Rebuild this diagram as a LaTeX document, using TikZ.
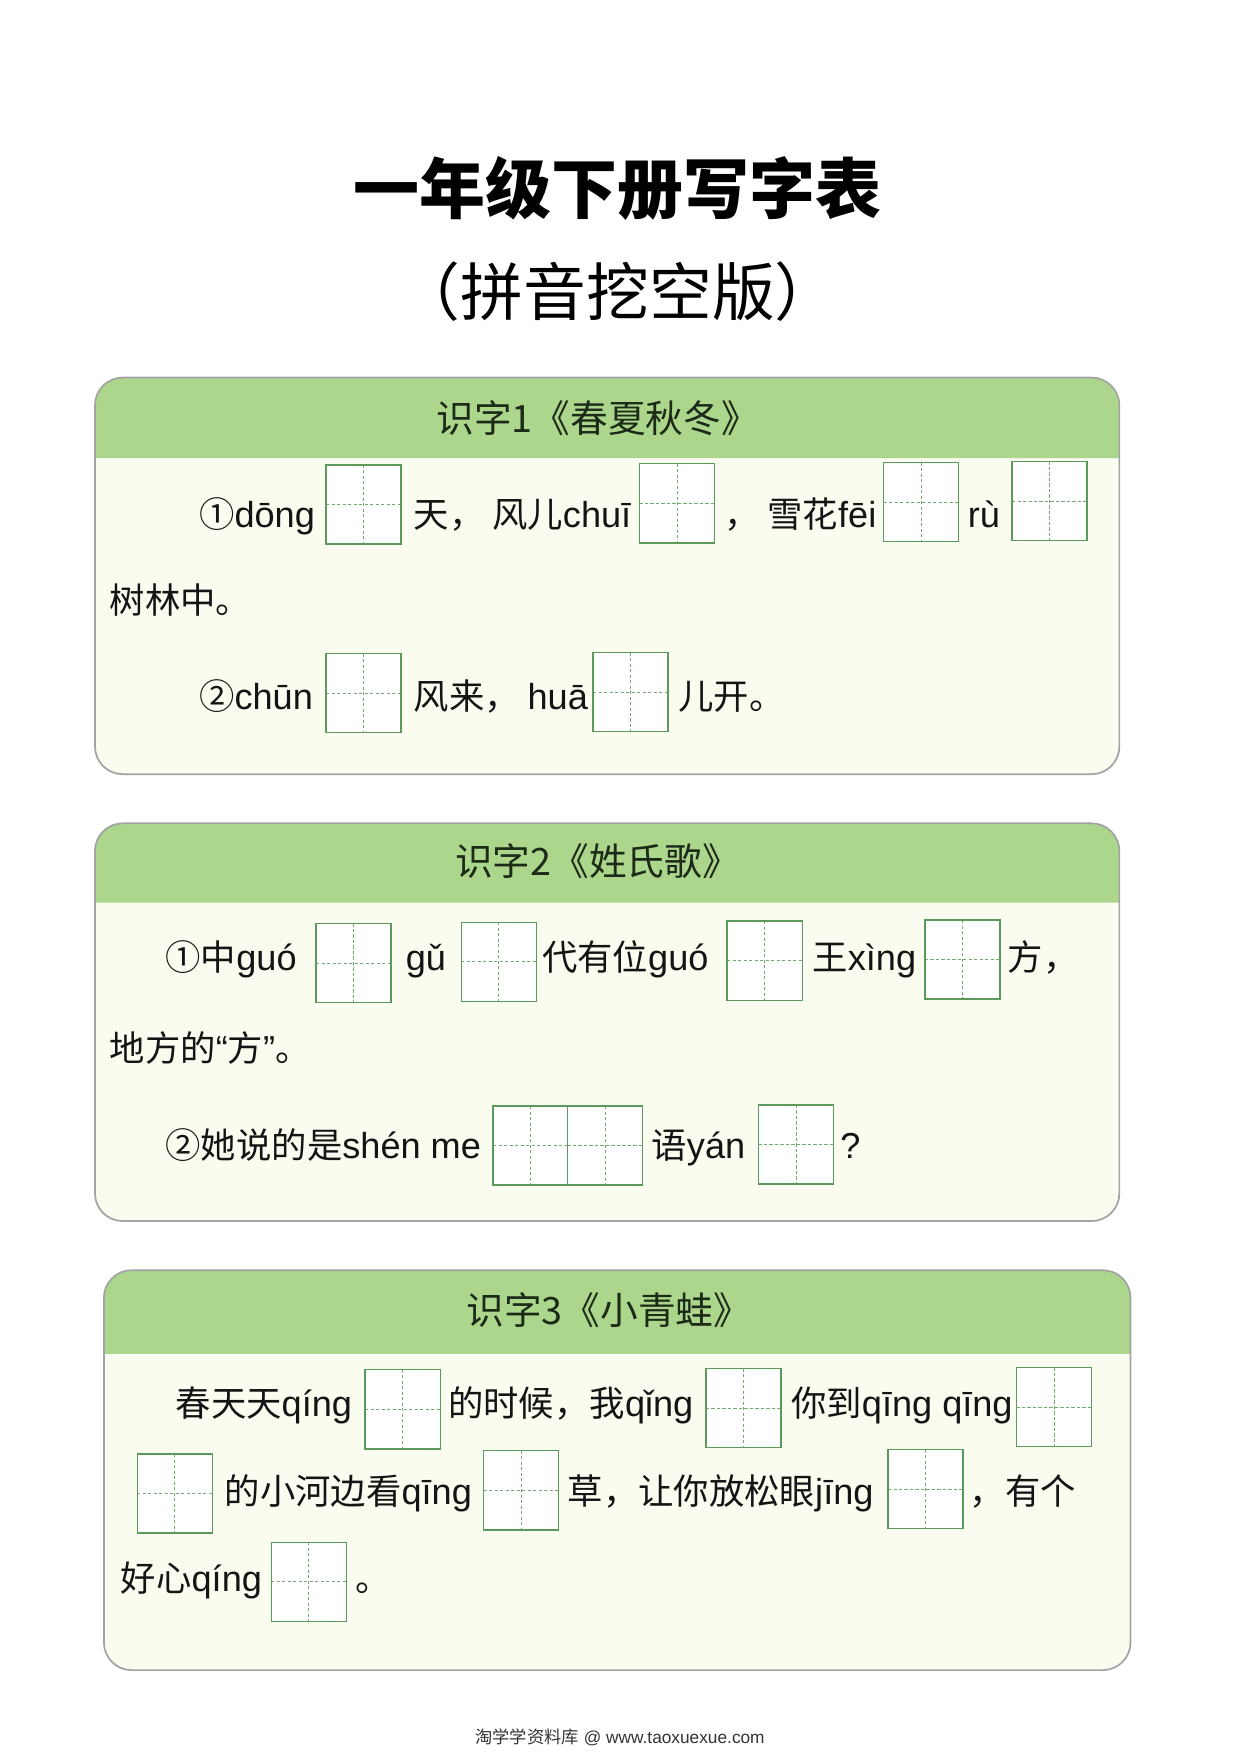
\documentclass[tikz,border=0pt]{standalone}
\usepackage{fontspec}
\setmainfont{Liberation Sans}
\newfontfamily\cjk{Noto Sans CJK SC}
\definecolor{headgreen}{HTML}{ACD68C}
\definecolor{cardcream}{HTML}{FBFCF0}
\definecolor{cardgray}{HTML}{A3A3A3}
\definecolor{tiangreen}{HTML}{5B9A5B}
\definecolor{headink}{HTML}{1C2A18}
\newcommand\py[1]{{\rmfamily\fontsize{23pt}{23pt}\selectfont #1}}
\tikzset{
	cardframe/.style={draw=cardgray, line width=1.1pt, rounded corners=0.62cm},
	headtext/.style={font=\cjk\fontsize{24pt}{24pt}\selectfont, text=headink, anchor=base, inner sep=0},
	linetext/.style={font=\cjk\fontsize{22.5pt}{22.5pt}\selectfont, text=black!92, anchor=base west, inner sep=0},
	tian/.style={draw=tiangreen, line width=0.9pt, fill=white, minimum width=1.68cm, minimum height=1.77cm, inner sep=0,
		path picture={\draw[tiangreen!85, line width=0.5pt, dash pattern=on 2pt off 1.5pt]
			(path picture bounding box.north) -- (path picture bounding box.south)
			(path picture bounding box.west) -- (path picture bounding box.east);}},
}

\begin{document}
\begin{tikzpicture}[x=0.025cm, y=-0.025cm]
		%%%%% START %%%%%
		\useasboundingbox (0, 0) rectangle (1110, 1569.2);
		
		\node[font=\cjk\bfseries\fontsize{42pt}{42pt}\selectfont, anchor=base, inner sep=0] (title) at (553, 191) {一年级下册写字表};
		\node[font=\cjk\fontsize{40pt}{40pt}\selectfont, anchor=base, inner sep=0] (subtitle) at (553, 282) {（拼音挖空版）};
		
		% card 1
		\fill[cardcream, rounded corners=0.62cm] (85, 338) rectangle (1002, 693);
		\fill[headgreen] (85, 410) [rounded corners=0.62cm] -- (85, 338) -- (1002, 338) [sharp corners] -- (1002, 410) -- cycle;
		\draw[cardframe] (85, 338) rectangle (1002, 693);
		\node[headtext] (head1) at (535, 387) {识字1《春夏秋冬》};
		
		\node[linetext] (s1a) at (178, 472) {①\py{dōng}};
		\node[tian] (k1a) at (325.5, 451.5) {};
		\node[linetext] (s1b) at (370, 472) {天， 风儿\py{chuī}};
		\node[tian] (k1b) at (606, 450.5) {};
		\node[linetext] (s1c) at (648, 472) {， 雪花\py{fēi}};
		\node[tian] (k1c) at (824.5, 449.5) {};
		\node[linetext] (s1d) at (866, 472) {\py{rù}};
		\node[tian] (k1d) at (939.5, 448.5) {};
		\node[linetext] (s1e) at (98, 549) {树林中。};
		\node[linetext] (s1f) at (178, 635) {②\py{chūn}};
		\node[tian] (k1e) at (325.5, 620.5) {};
		\node[linetext] (s1g) at (370, 635) {风来， \py{huā}};
		\node[tian] (k1f) at (564.5, 619.5) {};
		\node[linetext] (s1h) at (607, 635) {儿开。};
		
		% card 2
		\fill[cardcream, rounded corners=0.62cm] (85, 737) rectangle (1002, 1093);
		\fill[headgreen] (85, 808) [rounded corners=0.62cm] -- (85, 737) -- (1002, 737) [sharp corners] -- (1002, 808) -- cycle;
		\draw[cardframe] (85, 737) rectangle (1002, 1093);
		\node[headtext] (head2) at (535, 784) {识字2《姓氏歌》};
		
		\node[linetext] (s2a) at (148, 869) {①中\py{guó}};
		\node[tian] (k2a) at (316.5, 862) {};
		\node[linetext] (s2b) at (363, 869) {\py{gǔ}};
		\node[tian] (k2b) at (446.5, 861) {};
		\node[linetext] (s2c) at (485, 869) {代有位\py{guó}};
		\node[tian] (k2c) at (684.5, 860) {};
		\node[linetext] (s2d) at (727, 869) {王\py{xìng}};
		\node[tian] (k2d) at (861.5, 859) {};
		\node[linetext] (s2e) at (902, 869) {方，};
		\node[linetext] (s2f) at (98, 950) {地方的\py{“}方\py{”}。};
		\node[linetext] (s2g) at (148, 1037) {②她说的是\py{shén me}};
		\node[tian] (k2e) at (475, 1025.5) {};
		\node[tian] (k2f) at (541.5, 1025.5) {};
		\node[linetext] (s2h) at (583, 1037) {语\py{yán}};
		\node[tian] (k2g) at (712.5, 1024.5) {};
		\node[linetext] (s2i) at (752, 1037) {\py{?}};
		
		% card 3
		\fill[cardcream, rounded corners=0.62cm] (93, 1137) rectangle (1012, 1495);
		\fill[headgreen] (93, 1212) [rounded corners=0.62cm] -- (93, 1137) -- (1012, 1137) [sharp corners] -- (1012, 1212) -- cycle;
		\draw[cardframe] (93, 1137) rectangle (1012, 1495);
		\node[headtext] (head3) at (545, 1186) {识字3《小青蛙》};
		
		\node[linetext] (s3a) at (157, 1268) {春天天\py{qíng}};
		\node[tian] (k3a) at (360.5, 1261.5) {};
		\node[linetext] (s3b) at (401, 1268) {的时候，我\py{qǐng}};
		\node[tian] (k3b) at (665.5, 1260.5) {};
		\node[linetext] (s3c) at (708, 1268) {你到\py{qīng qīng}};
		\node[tian] (k3c) at (943.5, 1259.5) {};
		\node[tian] (k3d) at (156.5, 1337) {};
		\node[linetext] (s3d) at (201, 1347) {的小河边看\py{qīng}};
		\node[tian] (k3e) at (466.5, 1334) {};
		\node[linetext] (s3e) at (508, 1347) {草，让你放松眼\py{jīng}};
		\node[tian] (k3f) at (828.5, 1333) {};
		\node[linetext] (s3f) at (868, 1347) {，有个};
		\node[linetext] (s3g) at (108, 1425) {好心\py{qíng}};
		\node[tian] (k3g) at (276.5, 1416) {};
		\node[linetext] (s3h) at (318, 1425) {。};
		
		\node[font=\fontsize{11pt}{11pt}\selectfont, text=black!80, anchor=base, inner sep=0] (footer) at (555, 1561) {{\cjk 淘学学资料库} @ www.taoxuexue.com};
		%%%%% END %%%%%
	\end{tikzpicture}
\end{document}
